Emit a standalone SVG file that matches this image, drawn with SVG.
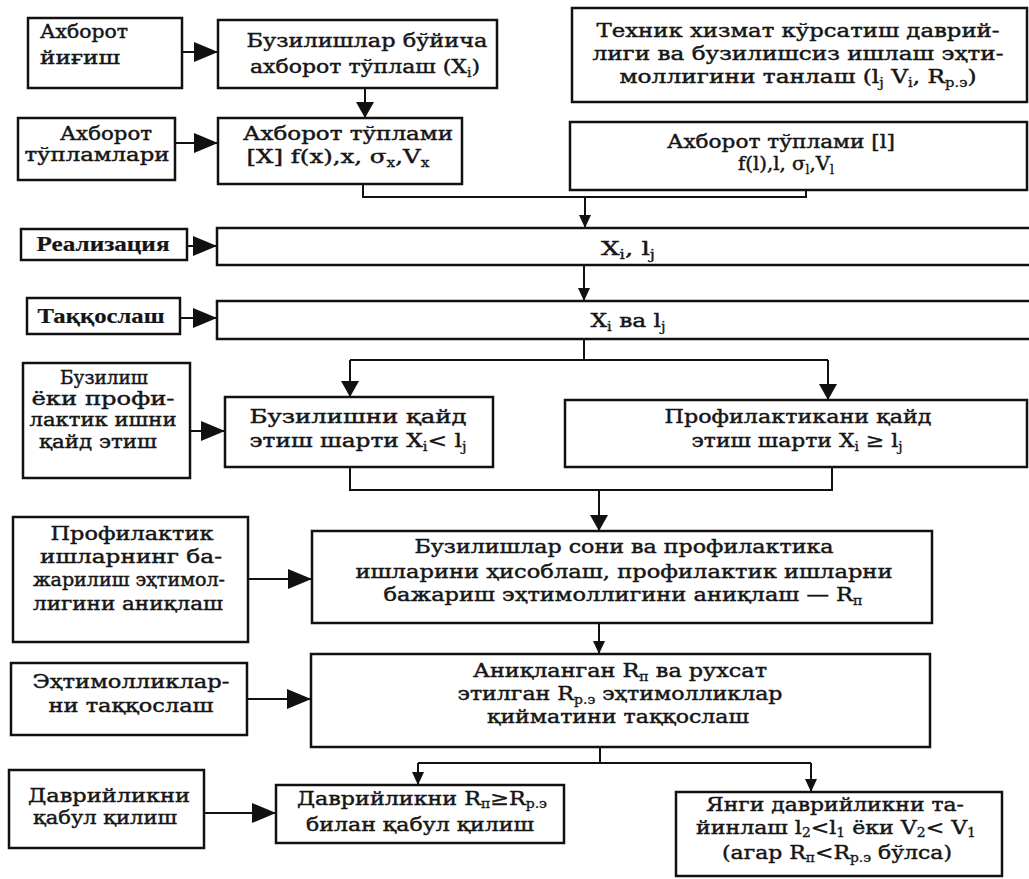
<svg xmlns="http://www.w3.org/2000/svg" width="1029" height="879" viewBox="0 0 1029 879">
<style>
.box{fill:#fff;stroke:#111;stroke-width:2.5}
.ln{fill:none;stroke:#111;stroke-width:2}
.t{font-family:"DejaVu Serif","Liberation Serif",serif;font-size:19px;font-weight:normal;fill:#151515;stroke:#151515;stroke-width:0.45;text-anchor:middle}
.l{text-anchor:start}
.c{font-family:"Liberation Serif",serif;font-size:21px;font-weight:bold;stroke-width:0.2}
.f{font-size:16px}
.sb{font-size:12px;stroke-width:0.3}
</style>
<defs>
<marker id="big" markerUnits="userSpaceOnUse" markerWidth="26" markerHeight="22" refX="24" refY="10" orient="auto"><path d="M0,0 L24,10 L0,20 z" fill="#111"/></marker>
<marker id="med" markerUnits="userSpaceOnUse" markerWidth="18" markerHeight="20" refX="16" refY="9" orient="auto"><path d="M0,0 L16,9 L0,18 z" fill="#111"/></marker>
<marker id="sm" markerUnits="userSpaceOnUse" markerWidth="15" markerHeight="14" refX="13" refY="6" orient="auto"><path d="M0,0 L13,6 L0,12 z" fill="#111"/></marker>
</defs>
<rect width="1029" height="879" fill="#fff"/>

<g id="connectors">
<path class="ln" d="M182,52 H218" marker-end="url(#big)"/>
<path class="ln" d="M365,88 V118" marker-end="url(#med)"/>
<path class="ln" d="M175,143 H218" marker-end="url(#big)"/>
<path class="ln" d="M363,184 V197 H806 V190"/>
<path class="ln" d="M585,197 V228" marker-end="url(#sm)"/>
<path class="ln" d="M187,246 H217" marker-end="url(#big)"/>
<path class="ln" d="M584,265 V301" marker-end="url(#sm)"/>
<path class="ln" d="M180,318 H217" marker-end="url(#big)"/>
<path class="ln" d="M584,339 V360"/>
<path class="ln" d="M350,360 H828"/>
<path class="ln" d="M350,360 V397" marker-end="url(#med)"/>
<path class="ln" d="M828,360 V400" marker-end="url(#med)"/>
<path class="ln" d="M190,431 H225" marker-end="url(#big)"/>
<path class="ln" d="M350,467 V490 H832 V467"/>
<path class="ln" d="M599,490 V531" marker-end="url(#med)"/>
<path class="ln" d="M248,579 H312" marker-end="url(#big)"/>
<path class="ln" d="M599,623 V654" marker-end="url(#sm)"/>
<path class="ln" d="M247,699 H311" marker-end="url(#big)"/>
<path class="ln" d="M600,747 V763"/>
<path class="ln" d="M418,763 H811"/>
<path class="ln" d="M418,763 V785" marker-end="url(#sm)"/>
<path class="ln" d="M811,763 V792" marker-end="url(#sm)"/>
<path class="ln" d="M204,813 H276" marker-end="url(#big)"/>
</g>

<g id="n-axborot-yigish">
<rect class="box" x="28" y="18" width="154" height="70"/>
<text class="t l" x="40" y="38" textLength="88" lengthAdjust="spacingAndGlyphs">Ахборот</text>
<text class="t l" x="40" y="64" textLength="80" lengthAdjust="spacingAndGlyphs">йиғиш</text>
</g>
<g id="n-buzilishlar-tuplash">
<rect class="box" x="218" y="20" width="279" height="68"/>
<text class="t" x="367" y="47" textLength="241" lengthAdjust="spacingAndGlyphs">Бузилишлар бўйича</text>
<text class="t" x="365" y="73" textLength="230" lengthAdjust="spacingAndGlyphs">ахборот тўплаш (X<tspan class="sb" dy="4">i</tspan><tspan dy="-4">)</tspan></text>
</g>
<g id="n-texnik-xizmat">
<rect class="box" x="572" y="8" width="455" height="94"/>
<text class="t" x="798" y="37" textLength="403" lengthAdjust="spacingAndGlyphs">Техник хизмат кўрсатиш даврий-</text>
<text class="t" x="798" y="60" textLength="411" lengthAdjust="spacingAndGlyphs">лиги ва бузилишсиз ишлаш эҳти-</text>
<text class="t" x="798" y="83" textLength="357" lengthAdjust="spacingAndGlyphs">моллигини танлаш (l<tspan class="sb" dy="4">j</tspan><tspan dy="-4"> V</tspan><tspan class="sb" dy="4">i</tspan><tspan dy="-4">, R</tspan><tspan class="sb" dy="4">р.э</tspan><tspan dy="-4">)</tspan></text>
</g>
<g id="n-axborot-tuplamlari">
<rect class="box" x="18" y="118" width="157" height="62"/>
<text class="t" x="106" y="140" textLength="92" lengthAdjust="spacingAndGlyphs">Ахборот</text>
<text class="t" x="97" y="161" textLength="145" lengthAdjust="spacingAndGlyphs">тўпламлари</text>
</g>
<g id="n-tuplami-x">
<rect class="box" x="218" y="118" width="244" height="66"/>
<text class="t" x="348" y="140" textLength="210" lengthAdjust="spacingAndGlyphs">Ахборот тўплами</text>
<text class="t" x="338" y="163" textLength="183" lengthAdjust="spacingAndGlyphs">[X]  f(x),x, σ<tspan class="sb" dy="4">x</tspan><tspan dy="-4">,V</tspan><tspan class="sb" dy="4">x</tspan></text>
</g>
<g id="n-tuplami-l">
<rect class="box" x="570" y="122" width="457" height="68"/>
<text class="t" x="781" y="148" textLength="228" lengthAdjust="spacingAndGlyphs">Ахборот тўплами [l]</text>
<text class="t" x="786" y="170" textLength="96" lengthAdjust="spacingAndGlyphs">f(l),l, σ<tspan class="sb" dy="4">l</tspan><tspan dy="-4">,V</tspan><tspan class="sb" dy="4">l</tspan></text>
</g>
<g id="n-realizatsiya">
<rect class="box" x="21" y="229" width="166" height="31"/>
<text class="t c" x="103" y="251" textLength="133" lengthAdjust="spacingAndGlyphs">Реализация</text>
</g>
<g id="n-xi-lj">
<rect class="box" x="217" y="228" width="820" height="37"/>
<text class="t" x="628" y="255" textLength="54" lengthAdjust="spacingAndGlyphs">X<tspan class="sb" dy="4">i</tspan><tspan dy="-4">, l</tspan><tspan class="sb" dy="4">j</tspan></text>
</g>
<g id="n-taqqoslash">
<rect class="box" x="27" y="298" width="153" height="36"/>
<text class="t c" x="101" y="323" textLength="127" lengthAdjust="spacingAndGlyphs">Таққослаш</text>
</g>
<g id="n-xi-va-lj">
<rect class="box" x="217" y="301" width="820" height="38"/>
<text class="t" x="628" y="327" textLength="75" lengthAdjust="spacingAndGlyphs">X<tspan class="sb" dy="4">i</tspan><tspan dy="-4"> ва l</tspan><tspan class="sb" dy="4">j</tspan></text>
</g>
<g id="n-buzilish-yoki">
<rect class="box" x="23" y="363" width="167" height="115"/>
<text class="t" x="104" y="384" textLength="88" lengthAdjust="spacingAndGlyphs">Бузилиш</text>
<text class="t" x="103" y="405" textLength="143" lengthAdjust="spacingAndGlyphs">ёки профи-</text>
<text class="t" x="103" y="426" textLength="147" lengthAdjust="spacingAndGlyphs">лактик ишни</text>
<text class="t" x="98" y="448" textLength="118" lengthAdjust="spacingAndGlyphs">қайд этиш</text>
</g>
<g id="n-buzilishni-qayd">
<rect class="box" x="225" y="397" width="268" height="70"/>
<text class="t" x="358" y="423" textLength="217" lengthAdjust="spacingAndGlyphs">Бузилишни қайд</text>
<text class="t" x="358" y="447" textLength="217" lengthAdjust="spacingAndGlyphs">этиш шарти X<tspan class="sb" dy="4">i</tspan><tspan dy="-4">&lt; l</tspan><tspan class="sb" dy="4">j</tspan></text>
</g>
<g id="n-profilaktikani-qayd">
<rect class="box" x="565" y="400" width="462" height="67"/>
<text class="t" x="798" y="423" textLength="267" lengthAdjust="spacingAndGlyphs">Профилактикани қайд</text>
<text class="t" x="797" y="447" textLength="211" lengthAdjust="spacingAndGlyphs">этиш шарти X<tspan class="sb" dy="4">i</tspan><tspan dy="-4"> ≥ l</tspan><tspan class="sb" dy="4">j</tspan></text>
</g>
<g id="n-profilaktik-ishlarning">
<rect class="box" x="13" y="517" width="235" height="125"/>
<text class="t" x="132" y="540" textLength="163" lengthAdjust="spacingAndGlyphs">Профилактик</text>
<text class="t" x="131" y="563" textLength="182" lengthAdjust="spacingAndGlyphs">ишларнинг ба-</text>
<text class="t" x="129" y="586" textLength="192" lengthAdjust="spacingAndGlyphs">жарилиш эҳтимол-</text>
<text class="t" x="128" y="610" textLength="190" lengthAdjust="spacingAndGlyphs">лигини аниқлаш</text>
</g>
<g id="n-buzilishlar-soni">
<rect class="box" x="312" y="531" width="620" height="92"/>
<text class="t" x="624" y="553" textLength="419" lengthAdjust="spacingAndGlyphs">Бузилишлар сони ва профилактика</text>
<text class="t" x="624" y="578" textLength="537" lengthAdjust="spacingAndGlyphs">ишларини ҳисоблаш, профилактик ишларни</text>
<text class="t" x="623" y="601" textLength="479" lengthAdjust="spacingAndGlyphs">бажариш эҳтимоллигини аниқлаш — R<tspan class="sb" dy="4">п</tspan></text>
</g>
<g id="n-extimolliklarni">
<rect class="box" x="11" y="663" width="236" height="72"/>
<text class="t" x="131" y="688" textLength="197" lengthAdjust="spacingAndGlyphs">Эҳтимолликлар-</text>
<text class="t" x="131" y="712" textLength="165" lengthAdjust="spacingAndGlyphs">ни таққослаш</text>
</g>
<g id="n-aniqlangan">
<rect class="box" x="311" y="654" width="619" height="93"/>
<text class="t" x="620" y="677" textLength="294" lengthAdjust="spacingAndGlyphs">Аниқланган R<tspan class="sb" dy="4">п</tspan><tspan dy="-4"> ва рухсат</tspan></text>
<text class="t" x="620" y="700" textLength="325" lengthAdjust="spacingAndGlyphs">этилган R<tspan class="sb" dy="4">р.э</tspan><tspan dy="-4"> эҳтимолликлар</tspan></text>
<text class="t" x="618" y="723" textLength="262" lengthAdjust="spacingAndGlyphs">қийматини таққослаш</text>
</g>
<g id="n-davriylikni-qabul">
<rect class="box" x="9" y="770" width="195" height="78"/>
<text class="t" x="109" y="802" textLength="162" lengthAdjust="spacingAndGlyphs">Даврийликни</text>
<text class="t" x="105" y="824" textLength="144" lengthAdjust="spacingAndGlyphs">қабул қилиш</text>
</g>
<g id="n-davriylikni-r">
<rect class="box" x="276" y="785" width="288" height="58"/>
<text class="t" x="422" y="805" textLength="250" lengthAdjust="spacingAndGlyphs">Даврийликни R<tspan class="sb" dy="3">п</tspan><tspan dy="-3">≥R</tspan><tspan class="sb" dy="3">р.э</tspan></text>
<text class="t" x="420" y="831" textLength="228" lengthAdjust="spacingAndGlyphs">билан қабул қилиш</text>
</g>
<g id="n-yangi-davriylik">
<rect class="box" x="676" y="792" width="326" height="84"/>
<text class="t" x="835" y="811" textLength="258" lengthAdjust="spacingAndGlyphs">Янги даврийликни та-</text>
<text class="t" x="836" y="834" textLength="280" lengthAdjust="spacingAndGlyphs">йинлаш l<tspan class="sb" dy="3">2</tspan><tspan dy="-3">&lt;l</tspan><tspan class="sb" dy="3">1</tspan><tspan dy="-3"> ёки V</tspan><tspan class="sb" dy="3">2</tspan><tspan dy="-3">&lt; V</tspan><tspan class="sb" dy="3">1</tspan></text>
<text class="t" x="837" y="859" textLength="230" lengthAdjust="spacingAndGlyphs">(агар R<tspan class="sb" dy="3">п</tspan><tspan dy="-3">&lt;R</tspan><tspan class="sb" dy="3">р.э</tspan><tspan dy="-3"> бўлса)</tspan></text>
</g>
</svg>
